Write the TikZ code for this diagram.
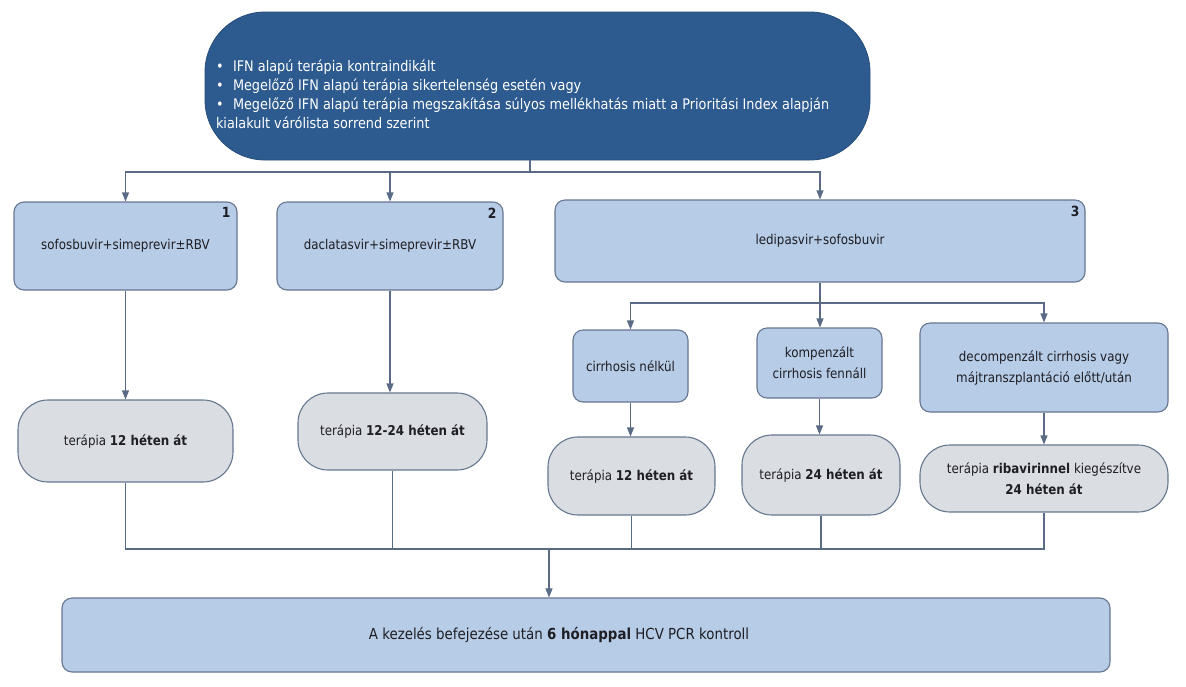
\documentclass[tikz,border=0pt]{standalone}
\usepackage{fontspec}
\setmainfont{DejaVu Sans}[FakeStretch=0.88]
\usetikzlibrary{arrows.meta}
\definecolor{topblue}{HTML}{2D5B8F}
\definecolor{lblue}{HTML}{B7CCE6}
\definecolor{lgrey}{HTML}{DADDE2}
\definecolor{edgec}{HTML}{66778F}
\definecolor{linec}{HTML}{5A6B86}
\definecolor{txt}{HTML}{1E1E24}
\begin{document}
\begin{tikzpicture}[x=1pt,y=-1pt,
  base/.style={font=\fontsize{13.5}{21}\selectfont, text=txt, align=center, inner sep=2pt},
  bluebox/.style={base, draw=edgec, fill=lblue, line width=1.1pt, rounded corners=10pt},
  greybox/.style={base, draw=edgec, fill=lgrey, line width=1.1pt, rounded corners=30pt},
  topbox/.style={fill=topblue, draw=topblue!85!black, line width=0.8pt, rounded corners=60pt, text=white, inner sep=0pt},
  conn/.style={draw=linec, line width=1.1pt},
  arr/.style={conn, -{Triangle[length=9pt,width=7pt]}},
  numst/.style={font=\fontsize{14}{14}\selectfont\bfseries, text=txt, inner sep=0pt}]
\useasboundingbox (0,0) rectangle (1186,686);

% top node
\node[topbox, minimum width=665, minimum height=148] (top) at (537.5,86)
  {\raisebox{-8.5pt}[\height][\depth]{\parbox{643pt}{\fontsize{14.6}{19}\selectfont\raggedright
  \makebox[17pt][l]{•}IFN alapú terápia kontraindikált\\
  \makebox[17pt][l]{•}Megelőző IFN alapú terápia sikertelenség esetén vagy\\
  \makebox[17pt][l]{•}Megelőző IFN alapú terápia megszakítása súlyos mellékhatás miatt a Prioritási Index alapján\\
  kialakult várólista sorrend szerint}}};

% level 1
\node[bluebox, minimum width=223, minimum height=88] (b1) at (125.5,246) {sofosbuvir+simeprevir±RBV};
\node[bluebox, minimum width=226, minimum height=88] (b2) at (390,246) {daclatasvir+simeprevir±RBV};
\node[bluebox, minimum width=530, minimum height=82] (b3) at (820,241) {ledipasvir+sofosbuvir};
\node[numst, anchor=north east] (n1) at ([xshift=-7pt,yshift=-6pt]b1.north east) {1};
\node[numst, anchor=north east] (n2) at ([xshift=-7pt,yshift=-6pt]b2.north east) {2};
\node[numst, anchor=north east] (n3) at ([xshift=-6pt,yshift=-6pt]b3.north east) {3};

% sub-cases of 3
\node[bluebox, minimum width=115, minimum height=72] (sA) at (630.5,366) {cirrhosis nélkül};
\node[bluebox, minimum width=125, minimum height=70] (sB) at (819.5,363) {kompenzált\\cirrhosis fennáll};
\node[bluebox, minimum width=248, minimum height=89] (sC) at (1044,367.5) {decompenzált cirrhosis vagy\\májtranszplantáció előtt/után};

% therapy durations
\node[greybox, minimum width=215, minimum height=82] (g1) at (125.5,441) {terápia \textbf{12 héten át}};
\node[greybox, minimum width=189, minimum height=77] (g2) at (392.5,431.5) {terápia \textbf{12-24 héten át}};
\node[greybox, minimum width=167, minimum height=78] (gA) at (631.5,476) {terápia \textbf{12 héten át}};
\node[greybox, minimum width=158, minimum height=80] (gB) at (821,475) {terápia \textbf{24 héten át}};
\node[greybox, minimum width=248, minimum height=67] (gC) at (1044,478.5) {terápia \textbf{ribavirinnel} kiegészítve\\\textbf{24 héten át}};

% bottom
\node[bluebox, minimum width=1048, minimum height=74] (bot) at (586,635) {};
\node[base, inner sep=0pt, font=\fontsize{15.2}{18}\selectfont] (bt) at (559,635) {A kezelés befejezése után \textbf{6 hónappal} HCV PCR kontroll};

% connectors
\coordinate (j1) at (530,172);
\draw[conn] (j1 |- top.south) -- (j1);
\draw[arr] (j1) -| (b1.north);
\draw[arr] (j1) -| (b2.north);
\draw[arr] (j1) -| (b3.north);

\draw[arr] (b1.south) -- (g1.north);
\draw[arr] (b2.south) -- (b2.south |- g2.north);

\coordinate (j2) at (820,303);
\draw[conn] (b3.south) -- (j2);
\draw[arr] (j2) -| (sA.north);
\draw[arr] (j2) -- (j2 |- sB.north);
\draw[arr] (j2) -| (sC.north);

\draw[arr] (sA.south) -- (sA.south |- gA.north);
\draw[arr] (sB.south) -- (sB.south |- gB.north);
\draw[arr] (sC.south) -- (gC.north);

\coordinate (j3) at (549,549);
\draw[conn] (g1.south) -- (g1.south |- j3) -- (gC.south |- j3) -- (gC.south);
\draw[conn] (g2.south) -- (g2.south |- j3);
\draw[conn] (gA.south) -- (gA.south |- j3);
\draw[conn] (gB.south) -- (gB.south |- j3);
\draw[arr] (j3) -- (j3 |- bot.north);
\end{tikzpicture}
\end{document}
